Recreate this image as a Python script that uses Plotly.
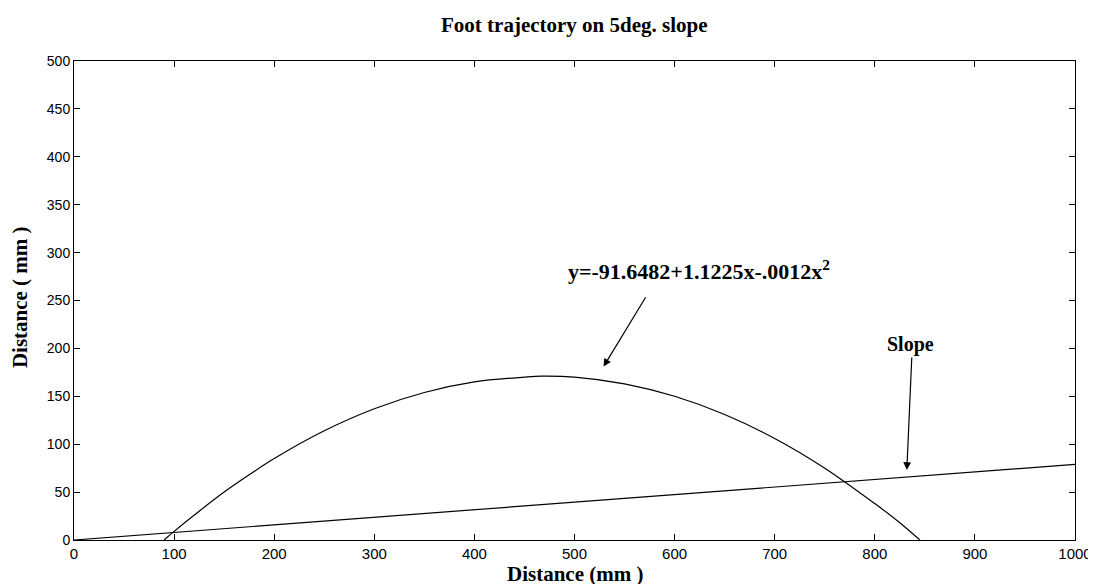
import plotly.graph_objects as go

# Foot trajectory (parabolic fit)
traj_x = [90, 100, 125, 150, 175, 200, 250, 300, 350, 400, 450, 467, 500, 550, 600, 650, 700, 750, 800, 825, 845]
traj_y = [0, 9, 30, 50, 68, 85, 114, 137, 154, 165, 170, 171, 170, 163, 150, 131, 106, 75, 38, 18, 0]

# Slope line
slope_x = [0, 1000]
slope_y = [0, 79]

x_ticks = [0, 100, 200, 300, 400, 500, 600, 700, 800, 900, 1000]
y_ticks = [0, 50, 100, 150, 200, 250, 300, 350, 400, 450, 500]

title_text = "Foot trajectory on 5deg. slope"
x_label = "Distance (mm )"
y_label = "Distance ( mm )"
eq_text = "y=-91.6482+1.1225x-.0012x<sup>2</sup>"
slope_text = "Slope"

fig = go.Figure()
fig.add_trace(go.Scatter(x=traj_x, y=traj_y, mode="lines", line=dict(color="black", width=1.2, shape="spline"),
                         showlegend=False, hoverinfo="skip"))
fig.add_trace(go.Scatter(x=slope_x, y=slope_y, mode="lines", line=dict(color="black", width=1.2),
                         showlegend=False, hoverinfo="skip"))

serif = "Liberation Serif, Times New Roman, serif"
sans = "Liberation Sans, Arial, sans-serif"

# arrows and in-plot labels
fig.add_annotation(x=529, y=181, ax=572, ay=255, xref="x", yref="y", axref="x", ayref="y",
                   text="", showarrow=True, arrowhead=2, arrowsize=1.3, arrowwidth=1.2, arrowcolor="black")
fig.add_annotation(x=624, y=282, xref="x", yref="y", text="<b>" + eq_text + "</b>", showarrow=False,
                   font=dict(family=serif, size=22, color="black"))
fig.add_annotation(x=832, y=73, ax=837, ay=192, xref="x", yref="y", axref="x", ayref="y",
                   text="", showarrow=True, arrowhead=2, arrowsize=1.3, arrowwidth=1.2, arrowcolor="black")
fig.add_annotation(x=836, y=204, xref="x", yref="y", text="<b>" + slope_text + "</b>", showarrow=False,
                   font=dict(family=serif, size=20, color="black"))

# title and axis titles
fig.add_annotation(x=0.5, y=1.075, xref="paper", yref="paper", text="<b>" + title_text + "</b>",
                   showarrow=False, xanchor="center", yanchor="middle",
                   font=dict(family=serif, size=21, color="black"))
fig.add_annotation(x=0.5, y=-0.072, xref="paper", yref="paper", text="<b>" + x_label + "</b>",
                   showarrow=False, xanchor="center", yanchor="middle",
                   font=dict(family=serif, size=21, color="black"))
fig.add_annotation(x=-0.0545, y=0.508, xref="paper", yref="paper", text="<b>" + y_label + "</b>",
                   showarrow=False, xanchor="center", yanchor="middle", textangle=-90,
                   font=dict(family=serif, size=21, color="black"))

fig.update_layout(
    width=1096, height=584,
    margin=dict(l=66, r=23, t=53, b=52),
    paper_bgcolor="white", plot_bgcolor="white",
    xaxis=dict(range=[0, 1000], tickvals=x_ticks, ticks="inside", ticklen=6, tickcolor="black",
               showline=True, linecolor="black", linewidth=1, mirror="ticks", showgrid=False, zeroline=False,
               tickfont=dict(family=sans, size=15, color="black")),
    yaxis=dict(range=[0, 500], tickvals=y_ticks, ticks="inside", ticklen=6, tickcolor="black",
               showline=True, linecolor="black", linewidth=1, mirror="ticks", showgrid=False, zeroline=False,
               tickfont=dict(family=sans, size=14, color="black")),
)

fig.write_html("out.html")
